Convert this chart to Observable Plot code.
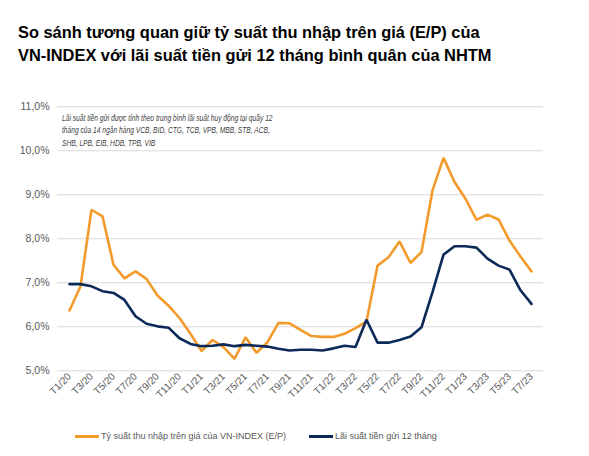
<!DOCTYPE html>
<html>
<head>
<meta charset="utf-8">
<script src="https://cdn.jsdelivr.net/npm/d3@7"></script>
<script src="https://cdn.jsdelivr.net/npm/@observablehq/plot@0.6"></script>
<style>
  html, body { margin: 0; padding: 0; background: #fff; }
  #wrap { position: relative; width: 589px; height: 456px; font-family: "Liberation Sans", Arial, sans-serif; }
  #title { position: absolute; left: 18px; top: 21px; font-weight: bold; font-size: 16.4px; line-height: 23px; color: #000; white-space: nowrap; }
  #note { position: absolute; left: 62px; top: 112px; font-style: italic; font-size: 9px; line-height: 12.3px; color: #404040; white-space: nowrap; transform: scaleX(0.74); transform-origin: left top; }
  #legend { position: absolute; left: 75px; top: 431px; font-size: 9px; color: #595959; white-space: nowrap; display: flex; align-items: center; }
  .sw { display: inline-block; width: 24px; height: 3px; margin-right: 2px; }
  .item { display: flex; align-items: center; }
  #plot { position: absolute; left: 0; top: 0; }
</style>
</head>
<body>
<div id="wrap">
  <div id="plot"></div>
  <div id="title">So sánh tương quan giữ tỷ suất thu nhập trên giá (E/P) của<br>VN-INDEX với lãi suất tiền gửi 12 tháng bình quân của NHTM</div>
  <div id="note">Lãi suất tiền gửi được tính theo trung bình lãi suất huy động tại quầy 12<br>tháng của 14 ngân hàng VCB, BID, CTG, TCB, VPB, MBB, STB, ACB,<br>SHB, LPB, EIB, HDB, TPB, VIB</div>
  <div id="legend"></div>
</div>
<script>
const months = [
  "T1/20","T2/20","T3/20","T4/20","T5/20","T6/20","T7/20","T8/20","T9/20","T10/20","T11/20","T12/20",
  "T1/21","T2/21","T3/21","T4/21","T5/21","T6/21","T7/21","T8/21","T9/21","T10/21","T11/21","T12/21",
  "T1/22","T2/22","T3/22","T4/22","T5/22","T6/22","T7/22","T8/22","T9/22","T10/22","T11/22","T12/22",
  "T1/23","T2/23","T3/23","T4/23","T5/23","T6/23","T7/23"
];
const epYield = [
  6.37, 6.92, 8.66, 8.51, 7.41, 7.10, 7.26, 7.09, 6.71, 6.48, 6.20, 5.84,
  5.45, 5.70, 5.54, 5.27, 5.76, 5.41, 5.65, 6.09, 6.08, 5.93, 5.79, 5.77,
  5.77, 5.84, 5.97, 6.12, 7.39, 7.58, 7.94, 7.45, 7.70, 9.10, 9.84, 9.29,
  8.91, 8.43, 8.55, 8.44, 7.96, 7.60, 7.26
];
const depositRate = [
  6.97, 6.97, 6.92, 6.81, 6.77, 6.61, 6.24, 6.07, 6.01, 5.98, 5.74, 5.61,
  5.56, 5.57, 5.60, 5.56, 5.59, 5.57, 5.55, 5.50, 5.46, 5.48, 5.48, 5.46,
  5.51, 5.57, 5.54, 6.16, 5.64, 5.64, 5.70, 5.78, 5.99, 6.79, 7.64, 7.83,
  7.83, 7.80, 7.55, 7.39, 7.30, 6.83, 6.52
];
const yTicks = [5, 6, 7, 8, 9, 10, 11];
const xTicks = months.filter((d, i) => i % 2 === 0);
const seriesNames = ["Tỷ suất thu nhập trên giá của VN-INDEX (E/P)", "Lãi suất tiền gửi 12 tháng"];
const seriesColors = ["#f29b2c", "#0c2a58"];

const rows = [];
months.forEach((m, i) => {
  rows.push({month: m, value: epYield[i], series: seriesNames[0]});
  rows.push({month: m, value: depositRate[i], series: seriesNames[1]});
});

const chart = Plot.plot({
  width: 589,
  height: 456,
  marginTop: 106.3,
  marginBottom: 85.7,
  marginLeft: 57,
  marginRight: 46,
  style: {fontFamily: "'Liberation Sans', Arial, sans-serif", fontSize: "9.5px", color: "#595959", background: "transparent"},
  x: {type: "point", domain: months, padding: 0.5, label: null},
  y: {domain: [5, 11], label: null},
  color: {domain: seriesNames, range: seriesColors},
  marks: [
    Plot.ruleY(yTicks, {stroke: "#d9d9d9", strokeWidth: 1}),
    Plot.axisY({ticks: yTicks, tickFormat: d => d.toFixed(1).replace(".", ",") + "%", tickSize: 0, tickPadding: 8, fontSize: 10.5, label: null}),
    Plot.axisX({ticks: xTicks, tickRotate: -45, tickSize: 0, tickPadding: 4, fontSize: 10, label: null}),
    Plot.line(rows, {x: "month", y: "value", z: "series", stroke: "series", strokeWidth: 2.6, strokeLinejoin: "miter"})
  ]
});
document.getElementById("plot").appendChild(chart);

const legend = document.getElementById("legend");
seriesNames.forEach((name, i) => {
  const item = document.createElement("div");
  item.className = "item";
  item.style.marginRight = i === 0 ? "23px" : "0";
  const sw = document.createElement("span");
  sw.className = "sw";
  sw.style.background = seriesColors[i];
  const t = document.createElement("span");
  t.textContent = name;
  item.appendChild(sw);
  item.appendChild(t);
  legend.appendChild(item);
});
</script>
</body>
</html>
